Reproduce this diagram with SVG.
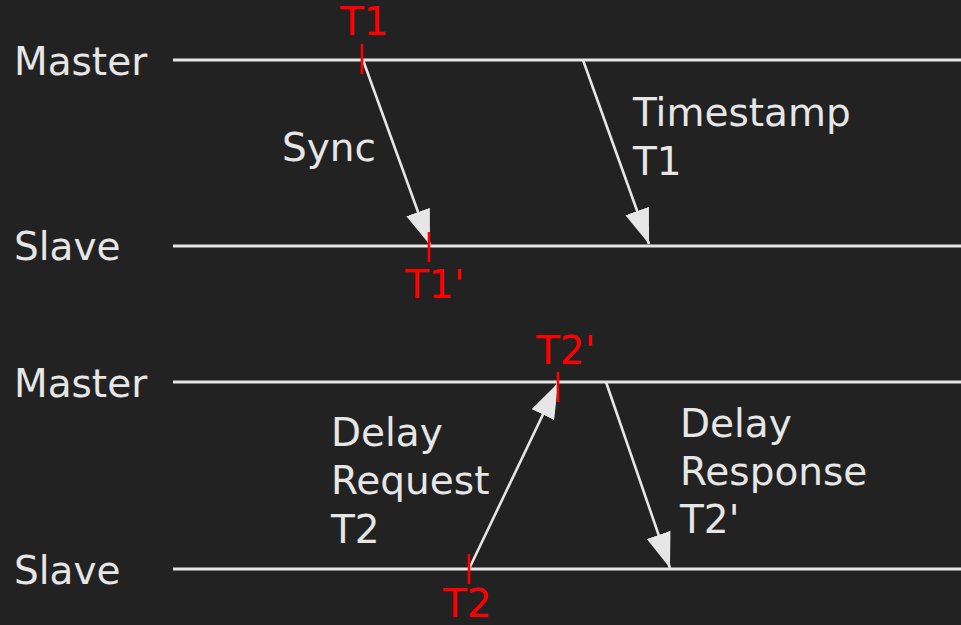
<svg xmlns="http://www.w3.org/2000/svg" width="961" height="625" viewBox="0 0 961 625">
  <style>
    .bg { fill: #222222; }
    .lane { stroke: #e6e6e6; stroke-width: 2.8; fill: none; }
    .msg { stroke: #e6e6e6; stroke-width: 2.6; fill: none; }
    .tick { stroke: #ff0000; stroke-width: 2.6; }
    text { font-family: "DejaVu Sans", "Liberation Sans", sans-serif; font-size: 39px; }
    .lbl { fill: #e6e6e6; }
    .red { fill: #ff0000; }
  </style>
  <defs>
    <marker id="head" markerUnits="userSpaceOnUse" viewBox="0 0 35 25" refX="35" refY="12.5" markerWidth="35" markerHeight="25" orient="auto">
      <path d="M0,0 L35,12.5 L0,25 Z" fill="#e6e6e6"/>
    </marker>
  </defs>
  <rect class="bg" x="0" y="0" width="961" height="625"/>

  <!-- master / slave time lines -->
  <g id="lanes">
    <line class="lane" x1="173" y1="60" x2="961" y2="60"/>
    <line class="lane" x1="173" y1="246" x2="961" y2="246"/>
    <line class="lane" x1="173" y1="382" x2="961" y2="382"/>
    <line class="lane" x1="173" y1="569" x2="961" y2="569"/>
  </g>

  <g id="lane-labels" class="lbl">
    <text x="14" y="75">Master</text>
    <text x="14" y="260">Slave</text>
    <text x="14" y="397">Master</text>
    <text x="14" y="584">Slave</text>
  </g>

  <!-- PTP messages -->
  <g id="connectors">
    <line class="msg" x1="363" y1="60" x2="430" y2="245" marker-end="url(#head)"/>
    <line class="msg" x1="583" y1="60" x2="649" y2="244" marker-end="url(#head)"/>
    <line class="msg" x1="469" y1="569" x2="558" y2="383" marker-end="url(#head)"/>
    <line class="msg" x1="606" y1="382" x2="670" y2="568" marker-end="url(#head)"/>
  </g>

  <!-- timestamp marks -->
  <g id="ticks">
    <line class="tick" x1="362" y1="44" x2="362" y2="74"/>
    <line class="tick" x1="429" y1="232" x2="429" y2="262"/>
    <line class="tick" x1="558" y1="372" x2="558" y2="402"/>
    <line class="tick" x1="469" y1="554" x2="469" y2="584"/>
  </g>

  <g id="sync">
    <text class="lbl" x="282" y="161">Sync</text>
  </g>
  <g id="timestamp">
    <text class="lbl" x="633" y="126">Timestamp</text>
    <text class="lbl" x="633" y="175">T1</text>
  </g>
  <g id="delay-request">
    <text class="lbl" x="331" y="446">Delay</text>
    <text class="lbl" x="331" y="494">Request</text>
    <text class="lbl" x="331" y="543">T2</text>
  </g>
  <g id="delay-response">
    <text class="lbl" x="680" y="437">Delay</text>
    <text class="lbl" x="680" y="485">Response</text>
    <text class="lbl" x="680" y="533">T2'</text>
  </g>

  <g id="times" class="red">
    <text x="340" y="35">T1</text>
    <text x="405" y="298">T1'</text>
    <text x="536" y="364">T2'</text>
    <text x="443" y="617">T2</text>
  </g>
</svg>
